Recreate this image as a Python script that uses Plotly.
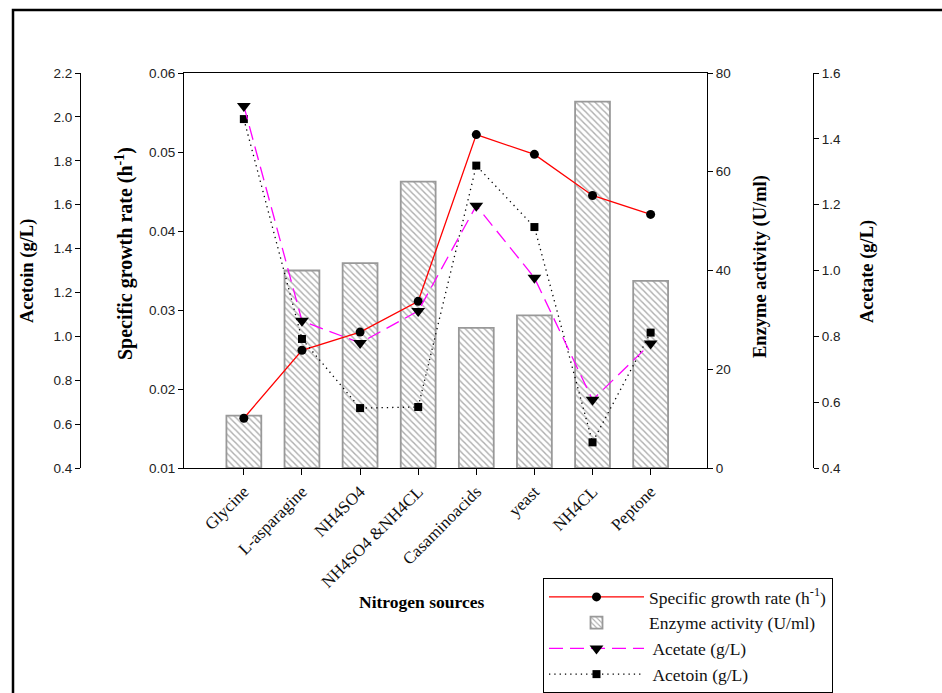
import plotly.graph_objects as go

# Nitrogen sources tested
sources = ["Glycine", "L-asparagine", "NH4SO4", "NH4SO4 &NH4CL",
           "Casaminoacids", "yeast", "NH4CL", "Peptone"]

# Measured responses per nitrogen source
growth_rate = [0.0163, 0.0249, 0.0272, 0.0311, 0.0522, 0.0497, 0.0445, 0.0421]   # h^-1
enzyme_activity = [10.6, 40.0, 41.5, 58.0, 28.4, 30.9, 74.2, 37.9]               # U/ml
acetate = [1.50, 0.847, 0.78, 0.877, 1.197, 0.978, 0.607, 0.778]                # g/L
acetoin = [1.99, 0.988, 0.673, 0.678, 1.778, 1.498, 0.517, 1.017]               # g/L

# Axis tick values
growth_ticks = [0.01, 0.02, 0.03, 0.04, 0.05, 0.06]
enzyme_ticks = [0, 20, 40, 60, 80]
acetoin_ticks = [0.4, 0.6, 0.8, 1.0, 1.2, 1.4, 1.6, 1.8, 2.0, 2.2]
acetate_ticks = [0.4, 0.6, 0.8, 1.0, 1.2, 1.4, 1.6]

W, H = 942, 693
SANS = "Liberation Sans, Arial, sans-serif"
SERIF = "Liberation Serif, Times New Roman, serif"


def px_x(x):
    return x / W


def px_y(y):
    return 1 - y / H


fig = go.Figure()

fig.add_trace(go.Scatter(
    x=sources, y=growth_rate, yaxis="y2", mode="lines+markers",
    name="Specific growth rate (h<sup>-1</sup>)",
    line=dict(color="#ff0000", width=1.3),
    marker=dict(symbol="circle", size=9, color="black"),
    legendgroup="g1",
))

fig.add_trace(go.Bar(
    x=sources, y=enzyme_activity, yaxis="y", width=0.6,
    name="Enzyme activity (U/ml)",
    marker=dict(color="white",
                line=dict(color="#999999", width=1.8),
                pattern=dict(shape="\\", fgcolor="#5e5e5e", bgcolor="white",
                             size=4.5, solidity=0.32)),
    legendgroup="g2",
))

fig.add_trace(go.Scatter(
    x=sources, y=acetate, yaxis="y4", mode="lines+markers",
    name=" Acetate (g/L)",
    line=dict(color="#ff00ff", width=1.3, dash="14px,7px"),
    marker=dict(symbol="triangle-down", size=12, color="black"),
    legendgroup="g3",
))

fig.add_trace(go.Scatter(
    x=sources, y=acetoin, yaxis="y3", mode="lines+markers",
    name=" Acetoin (g/L)",
    line=dict(color="black", width=1.3, dash="1.3px,4px"),
    marker=dict(symbol="square", size=8, color="black"),
    legendgroup="g4",
))

tickfont = dict(family=SANS, size=13.5, color="#222")
common_y = dict(showgrid=False, zeroline=False, showline=True, linecolor="black",
                linewidth=1, ticks="outside", ticklen=5, tickcolor="black",
                tickfont=tickfont)

fig.update_layout(
    width=W, height=H,
    margin=dict(l=0, r=0, t=0, b=0, autoexpand=False),
    paper_bgcolor="white", plot_bgcolor="white",
    xaxis=dict(
        domain=[px_x(184), px_x(707)], type="category",
        range=[-1.03, 7.97], showgrid=False, zeroline=False,
        showline=True, linecolor="black", linewidth=1, mirror=True,
        ticks="outside", ticklen=6, tickcolor="black", tickangle=-45,
        tickfont=dict(family=SERIF, size=17, color="#111"),
    ),
    yaxis=dict(
        domain=[px_y(468), px_y(73)], side="right", anchor="x",
        range=[0, 80], tickvals=enzyme_ticks, **common_y,
    ),
    yaxis2=dict(
        overlaying="y", side="left", anchor="x",
        range=[0.01, 0.06], tickvals=growth_ticks, tickformat=".2f", **common_y,
    ),
    yaxis3=dict(
        overlaying="y", side="left", anchor="free", position=px_x(80),
        range=[0.4, 2.2], tickvals=acetoin_ticks, tickformat=".1f", **common_y,
    ),
    yaxis4=dict(
        overlaying="y", side="right", anchor="free", position=px_x(813),
        range=[0.4, 1.6], tickvals=acetate_ticks, tickformat=".1f", **common_y,
    ),
    legend=dict(
        x=px_x(543), y=px_y(578), xanchor="left", yanchor="top",
        bgcolor="white", bordercolor="black", borderwidth=1,
        font=dict(family=SERIF, size=17.5, color="#111"),
        traceorder="grouped", tracegroupgap=0, itemwidth=95,
    ),
    showlegend=True,
)

# Rotated axis titles: (text, centre x px, centre y px, font size)
titles = [
    ("Acetoin (g/L)", 27, 271, 18.5),
    ("Specific growth rate (h<sup>-1</sup>)", 125, 254, 20),
    ("Enzyme activity (U/ml)", 761, 267, 18.5),
    ("Acetate (g/L)", 868, 272, 18.5),
]
for text, cx, cy, fs in titles:
    fig.add_annotation(
        text=f"<b>{text}</b>", xref="paper", yref="paper",
        x=px_x(cx), y=px_y(cy), xanchor="center", yanchor="middle",
        textangle=-90, showarrow=False,
        font=dict(family=SERIF, size=fs, color="black"),
    )

fig.add_annotation(
    text="<b>Nitrogen sources</b>", xref="paper", yref="paper",
    x=px_x(421), y=px_y(602), xanchor="center", yanchor="middle",
    showarrow=False, font=dict(family=SERIF, size=17.5, color="black"),
)

# Outer frame around the figure
fig.add_shape(type="rect", xref="paper", yref="paper",
              x0=px_x(13), x1=1.05, y0=-0.05, y1=px_y(10),
              line=dict(color="black", width=2.5))

fig.write_html("out.html")
